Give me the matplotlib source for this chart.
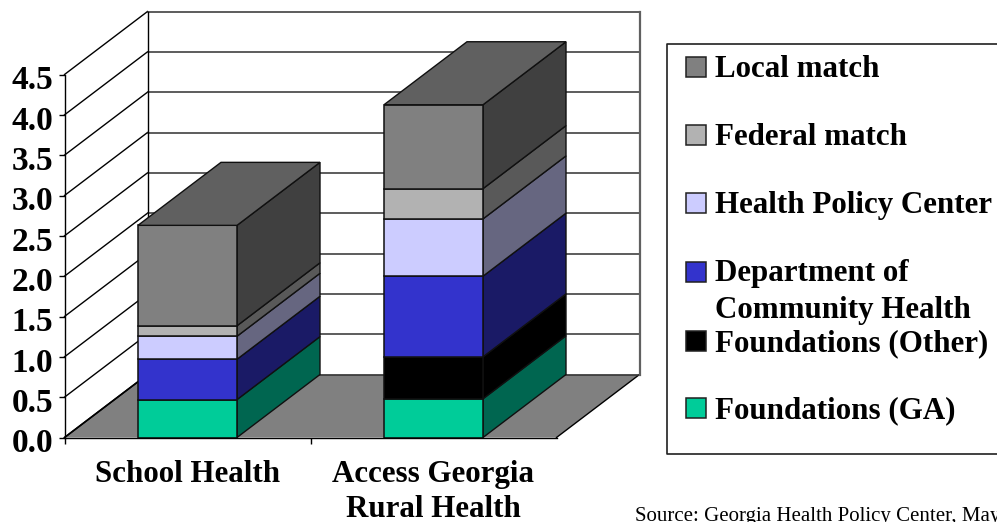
import matplotlib
matplotlib.use("Agg")
import matplotlib.pyplot as plt
from matplotlib.patches import Polygon, Rectangle
from matplotlib.transforms import ScaledTranslation

plt.rcParams['font.family'] = ['Liberation Serif', 'DejaVu Serif']

# --- data ---
categories = ["School Health", "Access Georgia\nRural Health"]
series_names = ["Foundations (GA)", "Foundations (Other)", "Department of\nCommunity Health",
                "Health Policy Center", "Federal match", "Local match"]
foundations_ga = [0.47, 0.48]
foundations_other = [0.0, 0.52]
dept_community_health = [0.50, 1.00]
health_policy_center = [0.285, 0.71]
federal_match = [0.13, 0.375]
local_match = [1.245, 1.04]
y_ticks = [0.0, 0.5, 1.0, 1.5, 2.0, 2.5, 3.0, 3.5, 4.0, 4.5]

stack = [foundations_ga, foundations_other, dept_community_health,
         health_policy_center, federal_match, local_match]

front_colors = ["#00CC99", "#000000", "#3333CC", "#CCCCFF", "#B2B2B2", "#808080"]
side_colors = ["#006650", "#000000", "#1A1A66", "#666680", "#595959", "#404040"]
top_color = "#606060"
floor_color = "#808080"

# fake 3d: how far the back plane sits from the front plane, in data units
DX = 83 / 246
DY = 63 / 80.67
BAR_W = 99 / 246

W, H = 997, 522
fig = plt.figure(figsize=(W / 100, H / 100), dpi=100)
ax = fig.add_axes([64.5 / W, (H - 437.5) / H, 492 / W, 363 / H])
ax.set_xlim(0, 2)
ax.set_ylim(0, 4.5)
ax.patch.set_visible(False)
for s in ['top', 'right']:
    ax.spines[s].set_visible(False)
for s in ['left', 'bottom']:
    ax.spines[s].set_linewidth(1.0)
    ax.spines[s].set_zorder(10)

# floor
ax.add_patch(Polygon([(0, 0), (2, 0), (2 + DX, DY), (DX, DY)], closed=True, fc=floor_color,
                     ec='none', clip_on=False, zorder=1))
ax.plot([0, DX], [0, DY], color='black', lw=1.2, clip_on=False, zorder=2)
ax.plot([2, 2 + DX], [0, DY], color='black', lw=1.0, clip_on=False, zorder=2)

# walls and gridlines
for t in y_ticks:
    ax.plot([0, DX], [t, t + DY], color='black', lw=1.0, clip_on=False, zorder=2)
    ax.plot([DX, 2 + DX], [t + DY, t + DY], color='#303030', lw=1.1, clip_on=False, zorder=2)
ax.plot([DX, DX], [DY, 4.5 + DY], color='black', lw=1.0, clip_on=False, zorder=2)
ax.plot([2 + DX, 2 + DX], [DY, 4.5 + DY], color='#606060', lw=1.6, clip_on=False, zorder=2)

# stacked boxes
for i in range(len(categories)):
    x0 = i + 0.5 - BAR_W / 2
    x1 = x0 + BAR_W
    base = 0.0
    for vals, fc, sc in zip(stack, front_colors, side_colors):
        v = vals[i]
        if v > 0:
            ax.add_patch(Polygon([(x1, base), (x1 + DX, base + DY), (x1 + DX, base + v + DY), (x1, base + v)],
                                 closed=True, fc=sc, ec='#101010', lw=1.0, clip_on=False, zorder=3))
            ax.add_patch(Rectangle((x0, base), BAR_W, v, fc=fc, ec='#101010', lw=1.1, clip_on=False, zorder=4))
        base += v
    ax.add_patch(Polygon([(x0, base), (x1, base), (x1 + DX, base + DY), (x0 + DX, base + DY)],
                         closed=True, fc=top_color, ec='#101010', lw=1.0, clip_on=False, zorder=4))

# axes ticks
ax.set_yticks(y_ticks)
ax.set_yticklabels([f"{t:.1f}" for t in y_ticks], fontsize=24, fontweight='bold')
ax.tick_params(axis='y', length=4, width=1.0, pad=4)
offset = ScaledTranslation(0, -2 / 72, fig.dpi_scale_trans)
for lab in ax.get_yticklabels():
    lab.set_transform(lab.get_transform() + offset)
ax.set_xticks([0, 1])
ax.set_xticklabels(["", ""])
ax.tick_params(axis='x', which='major', length=4, width=1.0)
ax.set_xticks([0.5, 1.5], minor=True)
ax.set_xticklabels(categories, minor=True, fontsize=22.3, fontweight='bold', linespacing=1.3)
ax.tick_params(axis='x', which='minor', length=0, pad=16)

# legend and source are placed in pixels on an overlay
ov = fig.add_axes([0, 0, 1, 1])
ov.set_xlim(0, W)
ov.set_ylim(H, 0)
ov.axis('off')
ov.patch.set_visible(False)

ov.plot([997, 667, 667, 997], [43.5, 43.5, 454, 454], color='#202020', lw=1.2, clip_on=False)

legend_baselines = [418, 351, 281.5, 213, 145, 77]
for name, fc, yb in zip(series_names, front_colors, legend_baselines):
    ov.add_patch(Rectangle((686, yb - 20), 20, 20, fc=fc, ec='#202020', lw=1.1))
    # the two line entry sits tighter than the others
    for k, line in enumerate(name.split('\n')):
        ov.text(715, yb + k * 36.5, line, fontsize=22.3, fontweight='bold', va='baseline', ha='left')

ov.text(635, 521, "Source: Georgia Health Policy Center, May", fontsize=15, va='baseline', ha='left')

fig.savefig("out.png", dpi=100)
